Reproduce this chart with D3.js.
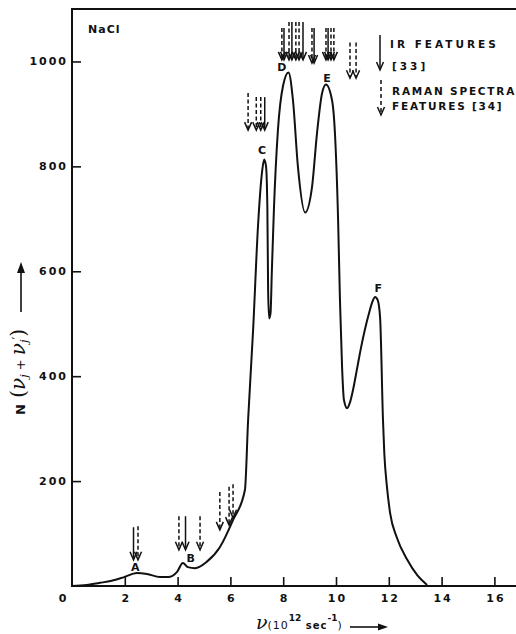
<!DOCTYPE html>
<html>
<head>
<meta charset="utf-8">
<script src="https://cdn.jsdelivr.net/npm/d3@7"></script>
<style>
  html, body { margin: 0; padding: 0; background: #fff; }
  svg { display: block; }
  text { font-family: "DejaVu Sans", sans-serif; fill: #111; }
</style>
</head>
<body>
<script>
// frequency (10^12 sec^-1) and density N(v_j + v_j')
const nuValues = [0, 0.55, 1.06, 1.5, 1.97, 2.46, 2.84, 3.33, 3.64, 3.98, 4.2, 4.39, 4.66, 5.1, 5.6, 6.1, 6.55,
  6.67, 6.86, 7.05, 7.2, 7.28, 7.35, 7.4, 7.43, 7.47, 7.52, 7.57, 7.65, 7.8, 8.0, 8.2, 8.37, 8.56, 8.83,
  9.09, 9.28, 9.47, 9.62, 9.85, 9.96, 10.08, 10.15, 10.23, 10.3, 10.42, 10.53, 10.65, 10.8, 10.95, 11.1,
  11.25, 11.38, 11.48, 11.58, 11.67, 11.78, 11.83, 11.93, 12.05, 12.3, 12.7, 13.07, 13.45];
const nValues = [0, 2, 6, 10, 17, 25, 23, 17, 17, 27, 44, 36, 34, 46, 74, 126, 183,
  316, 488, 690, 790, 813, 800, 720, 560, 510, 520, 600, 720, 869, 955, 979, 926, 798, 712,
  760, 863, 939, 956, 926, 863, 697, 545, 417, 355, 339, 350, 375, 415, 455, 490,
  520, 542, 551, 545, 512, 316, 253, 189, 139, 93, 50, 21, 2];

const xTicks = [0, 2, 4, 6, 8, 10, 12, 14, 16];
const yTicks = [200, 400, 600, 800, 1000];

// IR features [33] (solid) and Raman spectra features [34] (dashed)
const irArrows = [
  {nu: 2.33, from: 112, to: 50}, {nu: 4.3, from: 133, to: 69},
  {nu: 7.3, from: 932, to: 869},
  {nu: 8.03, from: 1064, to: 1003}, {nu: 8.33, from: 1075, to: 1003}, {nu: 8.75, from: 1075, to: 1003},
  {nu: 9.17, from: 1064, to: 997}, {nu: 9.7, from: 1064, to: 1003}
];
const ramanArrows = [
  {nu: 2.5, from: 114, to: 50}, {nu: 4.05, from: 133, to: 69}, {nu: 4.85, from: 133, to: 69},
  {nu: 5.6, from: 179, to: 107}, {nu: 5.95, from: 189, to: 116}, {nu: 6.1, from: 194, to: 130},
  {nu: 6.67, from: 940, to: 869}, {nu: 6.98, from: 932, to: 869}, {nu: 7.15, from: 932, to: 869},
  {nu: 7.95, from: 1064, to: 1003}, {nu: 8.22, from: 1075, to: 1003}, {nu: 8.48, from: 1075, to: 1003},
  {nu: 8.6, from: 1075, to: 1003}, {nu: 9.09, from: 1064, to: 997},
  {nu: 9.62, from: 1064, to: 1003}, {nu: 9.81, from: 1064, to: 1003}, {nu: 9.92, from: 1064, to: 1003},
  {nu: 10.53, from: 1036, to: 968}, {nu: 10.76, from: 1036, to: 968}
];

const peakLabels = [
  {label: "A", nu: 2.4, n: 36}, {label: "B", nu: 4.5, n: 53}, {label: "C", nu: 7.2, n: 830},
  {label: "D", nu: 7.95, n: 988}, {label: "E", nu: 9.66, n: 968}, {label: "F", nu: 11.6, n: 567}
];

const width = 516;
const height = 634;

const x = d3.scaleLinear().domain([0, 16]).range([72, 494.4]);
const y = d3.scaleLinear().domain([0, 1100]).range([586, 9]);

const svg = d3.select("body").append("svg")
  .attr("width", width)
  .attr("height", height);

// frame: left axis, bottom axis, top border
svg.append("path")
  .attr("d", `M${width},${y(1100)}H${x(0)}V${y(0)}H${width}`)
  .attr("fill", "none")
  .attr("stroke", "#111")
  .attr("stroke-width", 2);

// x axis
const xAxis = svg.append("g")
  .attr("transform", `translate(0,${y(0)})`)
  .call(d3.axisBottom(x).tickValues(xTicks).tickSizeInner(-9).tickSizeOuter(0).tickPadding(8).tickFormat(d3.format("d")));
xAxis.select(".domain").remove();
xAxis.selectAll(".tick line").attr("stroke", "#111").attr("stroke-width", 1.6)
  .filter((d) => d === 0).remove();
xAxis.selectAll(".tick text")
  .attr("font-family", "DejaVu Sans").attr("font-size", 11).attr("font-weight", "bold")
  .attr("letter-spacing", 2).attr("fill", "#111")
  .attr("dx", (d) => d === 0 ? -9 : 1);

// y axis
const yAxis = svg.append("g")
  .attr("transform", `translate(${x(0)},0)`)
  .call(d3.axisLeft(y).tickValues(yTicks).tickSizeInner(-9).tickSizeOuter(0).tickPadding(4).tickFormat(d3.format("d")));
yAxis.select(".domain").remove();
yAxis.selectAll(".tick line").attr("stroke", "#111").attr("stroke-width", 1.6);
yAxis.selectAll(".tick text")
  .attr("font-family", "DejaVu Sans").attr("font-size", 11).attr("font-weight", "bold")
  .attr("letter-spacing", 2).attr("fill", "#111");

// density curve
const points = nuValues.map((nu, i) => [nu, nValues[i]]);
const line = d3.line()
  .x((d) => x(d[0]))
  .y((d) => y(d[1]))
  .curve(d3.curveMonotoneX);

svg.append("path")
  .datum(points)
  .attr("d", line)
  .attr("fill", "none")
  .attr("stroke", "#111")
  .attr("stroke-width", 2);

// feature arrows
const drawArrows = (data, dashed) => {
  const g = svg.append("g").attr("stroke", "#111").attr("fill", "none").attr("stroke-width", 1.5);
  g.selectAll("line")
    .data(data)
    .enter()
    .append("line")
    .attr("x1", (d) => x(d.nu))
    .attr("x2", (d) => x(d.nu))
    .attr("y1", (d) => y(d.from))
    .attr("y2", (d) => y(d.to) - 2)
    .attr("stroke-dasharray", dashed ? "4,2.5" : null);
  g.selectAll("path")
    .data(data)
    .enter()
    .append("path")
    .attr("d", (d) => `M${x(d.nu) - 3.5},${y(d.to) - 8}L${x(d.nu)},${y(d.to)}L${x(d.nu) + 3.5},${y(d.to) - 8}`);
};
drawArrows(irArrows, false);
drawArrows(ramanArrows, true);

// peak letters
svg.append("g")
  .selectAll("text")
  .data(peakLabels)
  .enter()
  .append("text")
  .attr("x", (d) => x(d.nu))
  .attr("y", (d) => y(d.n))
  .attr("text-anchor", "middle")
  .attr("dominant-baseline", "central")
  .attr("font-size", 11)
  .attr("font-weight", "bold")
  .text((d) => d.label);

// NaCl
svg.append("text")
  .attr("x", 88).attr("y", 33)
  .attr("font-size", 11).attr("font-weight", "bold")
  .attr("letter-spacing", 1)
  .text("NaCl");

// legend
const legend = svg.append("g").attr("font-size", 10.5).attr("font-weight", "bold").attr("letter-spacing", 1.8);
legend.append("line").attr("x1", 380).attr("x2", 380).attr("y1", 35).attr("y2", 68)
  .attr("stroke", "#111").attr("stroke-width", 1.5);
legend.append("path").attr("d", "M376.5,62L380,70L383.5,62")
  .attr("fill", "none").attr("stroke", "#111").attr("stroke-width", 1.5);
legend.append("line").attr("x1", 381).attr("x2", 381).attr("y1", 80).attr("y2", 113)
  .attr("stroke", "#111").attr("stroke-width", 1.5).attr("stroke-dasharray", "4,3");
legend.append("path").attr("d", "M377.5,107L381,115L384.5,107")
  .attr("fill", "none").attr("stroke", "#111").attr("stroke-width", 1.5);
legend.append("text").attr("x", 390).attr("y", 48).attr("letter-spacing", 3).text("IR FEATURES");
legend.append("text").attr("x", 392).attr("y", 70).attr("letter-spacing", 3).text("[33]");
legend.append("text").attr("x", 392).attr("y", 95).text("RAMAN SPECTRA");
legend.append("text").attr("x", 392).attr("y", 110).text("FEATURES [34]");

// y axis title
const yTitle = svg.append("g").attr("transform", "translate(25,415) rotate(-90)");
const yt = yTitle.append("text").attr("x", 0).attr("y", 0).attr("font-size", 13);
yt.append("tspan").attr("font-weight", "bold").text("N");
yt.append("tspan").attr("font-family", "DejaVu Serif").attr("font-size", 20).text(" (");
yt.append("tspan").attr("font-family", "DejaVu Serif").attr("font-style", "italic").attr("font-size", 20).text("ν");
yt.append("tspan").attr("font-family", "DejaVu Serif").attr("font-style", "italic").attr("font-size", 11).attr("dy", 3).text("j");
yt.append("tspan").attr("font-size", 13).attr("dy", -3).text(" + ");
yt.append("tspan").attr("font-family", "DejaVu Serif").attr("font-style", "italic").attr("font-size", 20).text("ν");
yt.append("tspan").attr("font-family", "DejaVu Serif").attr("font-style", "italic").attr("font-size", 11).attr("dy", 3).text("j");
yt.append("tspan").attr("font-size", 12).attr("dy", -7).text("′");
yt.append("tspan").attr("font-family", "DejaVu Serif").attr("font-size", 20).attr("dy", 4).text(")");
svg.append("line").attr("x1", 21).attr("x2", 21).attr("y1", 312).attr("y2", 270)
  .attr("stroke", "#111").attr("stroke-width", 1.6);
svg.append("path").attr("d", "M17,273L21,262L25,273Z").attr("fill", "#111");

// x axis title
const xt = svg.append("text").attr("x", 256).attr("y", 629).attr("font-size", 12);
xt.append("tspan").attr("font-family", "DejaVu Serif").attr("font-style", "italic").attr("font-size", 19).text("ν");
xt.append("tspan").attr("font-size", 11).attr("letter-spacing", 1).text("(10");
xt.append("tspan").attr("font-size", 9).attr("font-weight", "bold").attr("dy", -8).text("12");
xt.append("tspan").attr("font-size", 10).attr("font-weight", "bold").attr("dy", 8).attr("letter-spacing", 1).text(" sec");
xt.append("tspan").attr("font-size", 9).attr("font-weight", "bold").attr("dy", -8).text("-1");
xt.append("tspan").attr("font-size", 11).attr("dy", 8).text(")");
svg.append("line").attr("x1", 350).attr("x2", 381).attr("y1", 627).attr("y2", 627)
  .attr("stroke", "#111").attr("stroke-width", 1.6);
svg.append("path").attr("d", "M378,623.5L388,627L378,630.5Z").attr("fill", "#111");
</script>
</body>
</html>
